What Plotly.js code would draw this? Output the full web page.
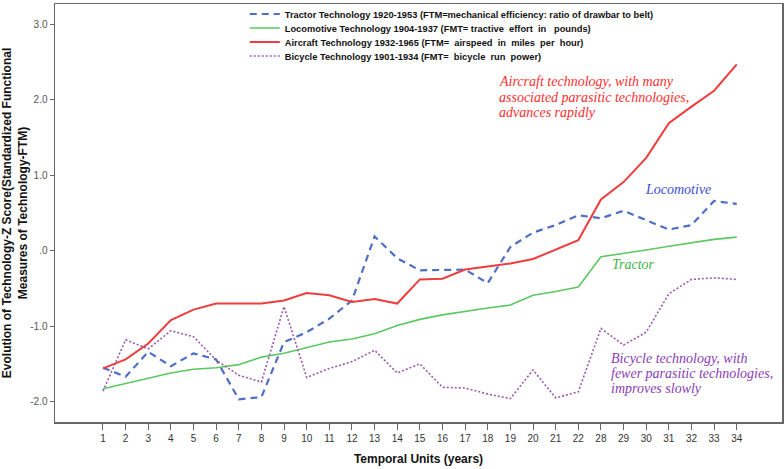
<!DOCTYPE html>
<html>
<head>
<meta charset="utf-8">
<script src="https://cdn.plot.ly/plotly-3.0.1.min.js"></script>
<style>html,body{margin:0;padding:0;background:#fff;}#chart{width:784px;height:469px;}</style>
</head>
<body>
<div id="chart"></div>
<script>
// Temporal units (categorical, note the jump from 22 to 28)
const temporalUnits = ["1","2","3","4","5","6","7","8","9","10","11","12","13","14","15","16","17","18","19","20","21","22","28","29","30","31","32","33","34"];

const tractor = [-1.55,-1.67,-1.34,-1.53,-1.36,-1.44,-1.97,-1.94,-1.21,-1.08,-0.90,-0.66,0.19,-0.10,-0.26,-0.26,-0.25,-0.43,0.05,0.24,0.34,0.47,0.43,0.53,0.40,0.28,0.34,0.66,0.62];
const locomotive = [-1.83,-1.76,-1.69,-1.62,-1.57,-1.55,-1.51,-1.41,-1.36,-1.28,-1.21,-1.17,-1.10,-0.99,-0.91,-0.85,-0.80,-0.76,-0.72,-0.59,-0.54,-0.48,-0.08,-0.04,0.01,0.06,0.11,0.15,0.18];
const aircraft = [-1.56,-1.44,-1.23,-0.92,-0.78,-0.70,-0.70,-0.70,-0.66,-0.56,-0.59,-0.68,-0.64,-0.70,-0.38,-0.37,-0.25,-0.21,-0.17,-0.11,0.01,0.14,0.68,0.91,1.23,1.69,1.91,2.12,2.47];
const bicycle = [-1.86,-1.18,-1.30,-1.06,-1.14,-1.45,-1.65,-1.74,-0.74,-1.68,-1.56,-1.47,-1.32,-1.62,-1.50,-1.81,-1.82,-1.90,-1.96,-1.58,-1.95,-1.87,-1.03,-1.25,-1.08,-0.57,-0.38,-0.36,-0.38];

const seriesNames = [
  "Tractor Technology 1920-1953 (FTM=mechanical efficiency: ratio of drawbar to belt)",
  "Locomotive Technology 1904-1937 (FMT= tractive  effort  in   pounds)",
  "Aircraft Technology 1932-1965 (FTM=  airspeed  in  miles  per  hour)",
  "Bicycle Technology 1901-1934 (FMT=  bicycle  run  power)"
];

const yTickVals = [3, 2, 1, 0, -1, -2];
const yTickText = ["3.0", "2.0", "1.0", ".0", "-1.0", "-2.0"];

const aircraftNote = ["Aircraft technology, with many", "associated parasitic technologies,", "advances rapidly"];
const bicycleNote = ["Bicycle technology, with", "fewer parasitic technologies,", "improves slowly"];

const traces = [
  {x: temporalUnits, y: tractor, name: seriesNames[0], type: "scatter", mode: "lines", legend: "legend",
   line: {color: "#4f6fc4", width: 2.2, dash: "7px,5px"}},
  {x: temporalUnits, y: locomotive, name: seriesNames[1], type: "scatter", mode: "lines", legend: "legend2",
   line: {color: "#5cc862", width: 1.6}},
  {x: temporalUnits, y: aircraft, name: seriesNames[2], type: "scatter", mode: "lines", legend: "legend3",
   line: {color: "#f03c3c", width: 2}},
  {x: temporalUnits, y: bicycle, name: seriesNames[3], type: "scatter", mode: "lines", legend: "legend4",
   line: {color: "#9a5aab", width: 1.6, dash: "2px,2px"}}
];

const annFont = {family: "Liberation Serif, Times New Roman, serif", size: 14, style: "italic"};

function legendAt(yPaper) {
  return {
    x: 0.261, y: yPaper, xanchor: "left", yanchor: "middle",
    bgcolor: "rgba(0,0,0,0)",
    font: {family: "Liberation Sans Narrow, Arial Narrow, Liberation Sans, sans-serif", size: 9.3, color: "#111", weight: "bold"},
    itemwidth: 30
  };
}

function note(text, x, y, color) {
  return {xref: "paper", yref: "paper", x: x, y: y, xanchor: "left", yanchor: "middle", align: "left",
          showarrow: false, text: text, font: Object.assign({}, annFont, {color: color})};
}

const annotations = [];
const aircraftY = [0.8134, 0.7775, 0.7416];
aircraftNote.forEach((t, i) => annotations.push(note(t, 0.608, aircraftY[i], "#ff2e2e")));
const bicycleY = [0.1531, 0.1172, 0.0813];
bicycleNote.forEach((t, i) => annotations.push(note(t, 0.762, bicycleY[i], "#8a3cb4")));
annotations.push(note("Locomotive", 0.809, 0.557, "#3a4ed0"));
annotations.push(note("Tractor", 0.763, 0.3756, "#3cb44a"));

const layout = {
  width: 784, height: 469,
  margin: {l: 55, r: 2, t: 4, b: 47, autoexpand: false},
  paper_bgcolor: "#fff", plot_bgcolor: "#fff",
  font: {family: "Liberation Sans, Arial, sans-serif", color: "#222"},
  showlegend: true,
  legend: legendAt(0.9761),
  legend2: legendAt(0.9426),
  legend3: legendAt(0.9091),
  legend4: legendAt(0.8756),
  xaxis: {
    type: "category", range: [-2.12, 30.0],
    showgrid: false, zeroline: false,
    showline: true, linecolor: "#666", linewidth: 1.5, mirror: true,
    ticks: "outside", ticklen: 6, tickcolor: "#666",
    tickfont: {family: "Liberation Sans Narrow, Arial Narrow, Liberation Sans, sans-serif", size: 10, color: "#333"},
    title: {text: "Temporal Units (years)", font: {size: 12, weight: "bold", color: "#111"}, standoff: 12}
  },
  yaxis: {
    range: [-2.27, 3.27],
    tickvals: yTickVals, ticktext: yTickText,
    showgrid: false, zeroline: false,
    showline: true, linecolor: "#666", linewidth: 1.5, mirror: true,
    ticks: "outside", ticklen: 4, tickcolor: "#666",
    tickfont: {family: "Liberation Sans Narrow, Arial Narrow, Liberation Sans, sans-serif", size: 10, color: "#555"},
    title: {text: "Evolution of Technology-Z Score(Standardized Functional<br>Measures of Technology-FTM)", font: {size: 12, weight: "bold", color: "#111"}, standoff: 5}
  },
  annotations: annotations
};

Plotly.newPlot("chart", traces, layout, {displayModeBar: false, staticPlot: true});
</script>
</body>
</html>
